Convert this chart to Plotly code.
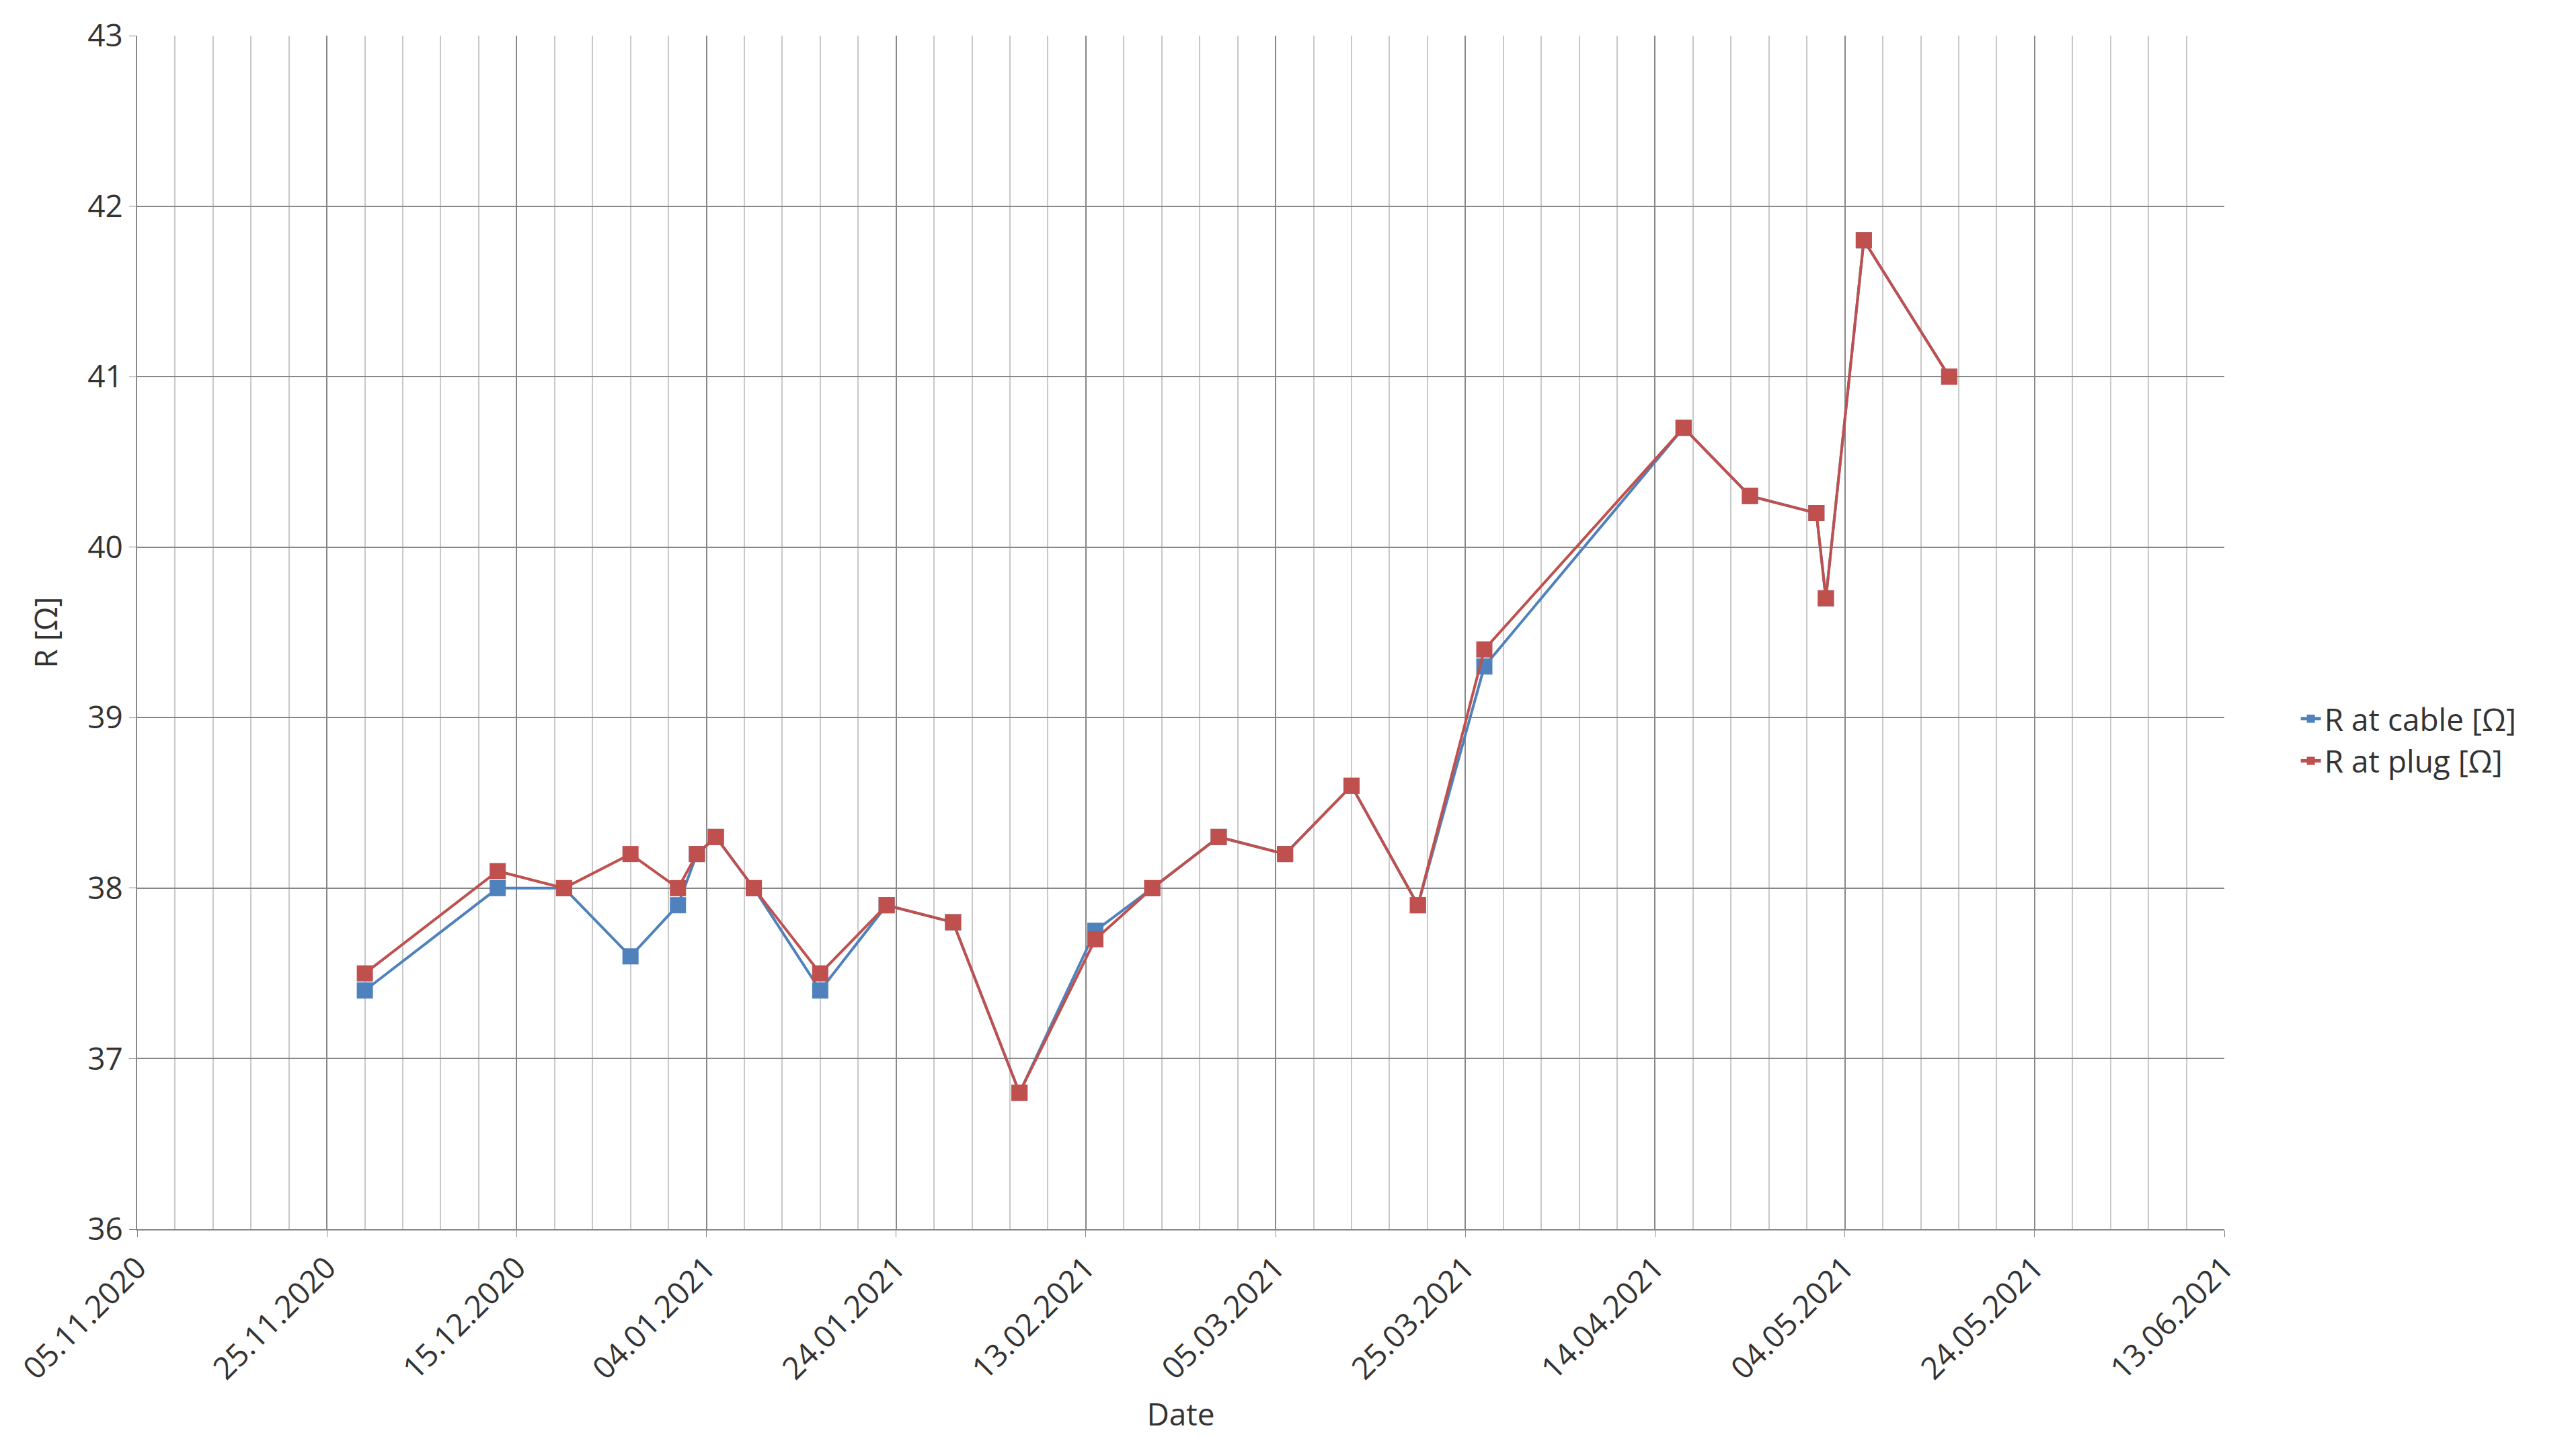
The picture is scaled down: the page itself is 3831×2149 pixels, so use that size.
import plotly.graph_objects as go

dates = ["2020-11-29","2020-12-13","2020-12-20","2020-12-27","2021-01-01","2021-01-03","2021-01-05",
         "2021-01-09","2021-01-16","2021-01-23","2021-01-30","2021-02-06","2021-02-14","2021-02-20",
         "2021-02-27","2021-03-06","2021-03-13","2021-03-20","2021-03-27","2021-04-17","2021-04-24",
         "2021-05-01","2021-05-02","2021-05-06","2021-05-15"]
r_cable = [37.4,38.0,38.0,37.6,37.9,38.2,38.3,38.0,37.4,37.9,37.8,36.8,37.75,38.0,38.3,38.2,38.6,37.9,
           39.3,40.7,40.3,40.2,39.7,41.8,41.0]
r_plug = [37.5,38.1,38.0,38.2,38.0,38.2,38.3,38.0,37.5,37.9,37.8,36.8,37.7,38.0,38.3,38.2,38.6,37.9,
          39.4,40.7,40.3,40.2,39.7,41.8,41.0]
tick_dates = ["2020-11-05","2020-11-25","2020-12-15","2021-01-04","2021-01-24","2021-02-13",
              "2021-03-05","2021-03-25","2021-04-14","2021-05-04","2021-05-24","2021-06-13"]
tick_text = ["05.11.2020","25.11.2020","15.12.2020","04.01.2021","24.01.2021","13.02.2021",
             "05.03.2021","25.03.2021","14.04.2021","04.05.2021","24.05.2021","13.06.2021"]

fig = go.Figure()
fig.add_trace(go.Scatter(x=dates, y=r_cable, name="R at cable [Ω]", mode="lines+markers",
                         line=dict(color="#4F81BD", width=4), marker=dict(symbol="square", size=24, color="#4F81BD")))
fig.add_trace(go.Scatter(x=dates, y=r_plug, name="R at plug [Ω]", mode="lines+markers",
                         line=dict(color="#C0504D", width=4), marker=dict(symbol="square", size=24, color="#C0504D")))
fig.update_layout(
    width=3831, height=2149, paper_bgcolor="white", plot_bgcolor="white",
    margin=dict(l=190, r=531, t=44, b=329),
    font=dict(family="Open Sans", size=46, color="#333"),
    legend=dict(x=1.035, y=0.41, yanchor="middle", font=dict(size=46), itemsizing="constant",
                tracegroupgap=30),
    xaxis=dict(type="date", range=["2020-11-05","2021-06-13"], tickvals=tick_dates, ticktext=tick_text,
               tickangle=-45, showgrid=True, gridcolor="#888", gridwidth=2, showline=True, linecolor="#888",
               linewidth=2, ticks="outside", ticklen=10, tickcolor="#888",
               minor=dict(tick0="2020-11-05", dtick=4*86400000, showgrid=True, gridcolor="#c8c8c8", gridwidth=2),
               title=dict(text="Date", font=dict(size=46), standoff=25)),
    yaxis=dict(range=[36,43], dtick=1, showgrid=True, gridcolor="#888", gridwidth=2, showline=True,
               linecolor="#888", linewidth=2, ticks="outside", ticklen=10, tickcolor="#888", zeroline=False,
               title=dict(text="R [Ω]", font=dict(size=46), standoff=30)),
)
fig.write_html("out.html")
